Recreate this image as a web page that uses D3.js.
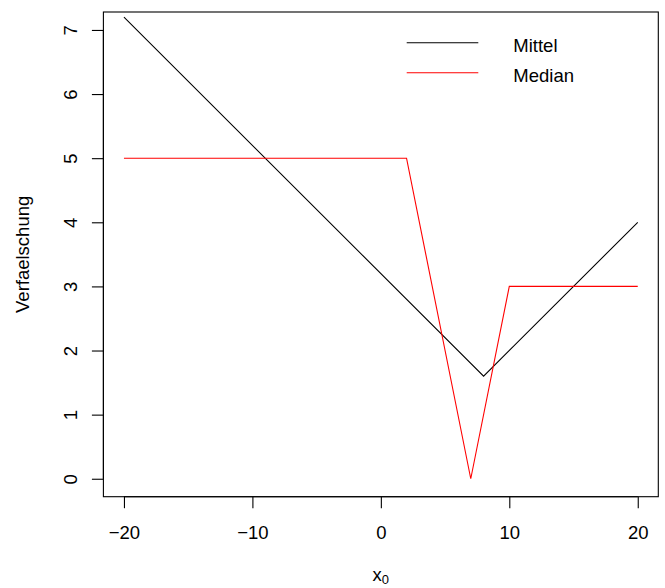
<!DOCTYPE html>
<html>
<head>
<meta charset="utf-8">
<script src="https://cdn.jsdelivr.net/npm/d3@7"></script>
<style>
  body { margin: 0; background: #fff; }
  svg { display: block; font-family: "Liberation Sans", Arial, sans-serif; }
</style>
</head>
<body>
<svg id="chart" width="665" height="588"></svg>
<script>
// the two series
const mittel_x = [-20, 8, 20];
const mittel_y = [7.2, 1.6, 4];
const median_x = [-20, 2, 7, 10, 20];
const median_y = [5, 5, 0, 3, 3];
const x_ticks = [-20, -10, 0, 10, 20];
const y_ticks = [0, 1, 2, 3, 4, 5, 6, 7];
const legend_names = ["Mittel", "Median"];
const legend_colors = ["black", "red"];

const pLeft = 103.4, pRight = 658.3, pTop = 12, pBottom = 496.7;
const fs = 18.5;
const svg = d3.select("#chart");

// R style: 4% padding on each side of the limits
const xScale = d3.scaleLinear().domain([-21.6, 21.6]).range([pLeft, pRight]);
const yScale = d3.scaleLinear().domain([-0.28, 7.28]).range([pBottom, pTop]);

const line = d3.line().x(d => xScale(d[0])).y(d => yScale(d[1]));

svg.append("path")
    .datum(mittel_x.map((x, i) => [x, mittel_y[i]]))
    .attr("d", line)
    .attr("fill", "none")
    .attr("stroke", "black")
    .attr("stroke-width", 1.1);

svg.append("path")
    .datum(median_x.map((x, i) => [x, median_y[i]]))
    .attr("d", line)
    .attr("fill", "none")
    .attr("stroke", "red")
    .attr("stroke-width", 1.1);

// box
svg.append("rect")
    .attr("x", pLeft).attr("y", pTop)
    .attr("width", pRight - pLeft).attr("height", pBottom - pTop)
    .attr("fill", "none").attr("stroke", "black").attr("stroke-width", 1.1);

// x axis
let gx = svg.append("g")
    .attr("transform", `translate(0, ${pBottom})`)
    .call(d3.axisBottom(xScale).tickValues(x_ticks).tickSize(11.5)
        .tickFormat(d => d < 0 ? "\u2212" + Math.abs(d) : d));
gx.select(".domain").remove();
gx.append("line")
    .attr("x1", xScale(x_ticks[0])).attr("x2", xScale(x_ticks[x_ticks.length - 1]))
    .attr("stroke", "black").attr("stroke-width", 1.1);
gx.selectAll(".tick line").attr("stroke-width", 1.1);
gx.selectAll(".tick text")
    .attr("y", 42.6).attr("dy", null)
    .attr("font-size", fs).attr("fill", "black");
gx.attr("font-family", null);

// y axis, labels rotated like R's las=0
let gy = svg.append("g")
    .attr("transform", `translate(${pLeft}, 0)`)
    .call(d3.axisLeft(yScale).tickValues(y_ticks).tickSize(11.5));
gy.select(".domain").remove();
gy.append("line")
    .attr("y1", yScale(y_ticks[0])).attr("y2", yScale(y_ticks[y_ticks.length - 1]))
    .attr("stroke", "black").attr("stroke-width", 1.1);
gy.selectAll(".tick line").attr("stroke-width", 1.1);
gy.selectAll(".tick text")
    .attr("x", null).attr("dy", null)
    .attr("text-anchor", "middle")
    .attr("transform", "translate(-26.8, 0) rotate(-90)")
    .attr("font-size", fs).attr("fill", "black");
gy.attr("font-family", null);

// axis titles
let xt = svg.append("text")
    .attr("x", (pLeft + pRight) / 2).attr("y", 581)
    .attr("text-anchor", "middle").attr("font-size", fs);
xt.append("tspan").text("x");
xt.append("tspan").attr("font-size", 13).attr("dy", 3).text("0");

svg.append("text")
    .attr("transform", `translate(28.5, ${(pTop + pBottom) / 2}) rotate(-90)`)
    .attr("text-anchor", "middle").attr("font-size", fs)
    .text("Verfaelschung");

// legend
let lg = svg.append("g").selectAll("g")
    .data(legend_names)
    .enter().append("g")
    .attr("transform", (d, i) => `translate(0, ${42.7 + i * 30})`);
lg.append("line")
    .attr("x1", 406.7).attr("x2", 478.3)
    .attr("stroke", (d, i) => legend_colors[i]).attr("stroke-width", 1.1);
lg.append("text")
    .attr("x", 513.3).attr("y", 8.8)
    .attr("font-size", fs)
    .text(d => d);
</script>
</body>
</html>
